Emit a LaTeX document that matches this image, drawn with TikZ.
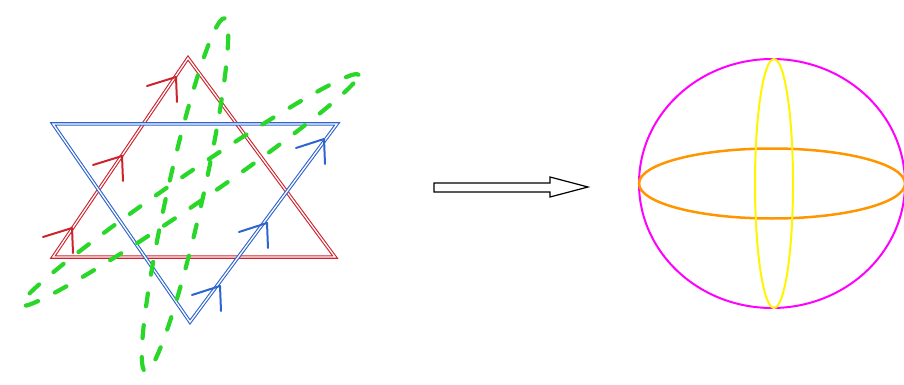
\documentclass[tikz,border=0pt]{standalone}
\definecolor{tred}{RGB}{205,35,45}
\definecolor{tblue}{RGB}{45,100,205}
\definecolor{lgreen}{RGB}{40,215,40}
\definecolor{sorange}{RGB}{255,150,0}
\definecolor{smagenta}{RGB}{255,0,255}
\definecolor{syellow}{RGB}{255,245,0}
\begin{document}
\begin{tikzpicture}[x=1pt,y=-1pt,
  edgeline/.style={double=white, double distance=1.3pt, line width=1.1pt},
  barb/.style={line width=2pt, line cap=round, line join=round},
  greenloop/.style={lgreen, line width=4.2pt, line cap=round, dash pattern=on 13pt off 19pt},
  blockarrow/.style={draw=black, line width=1.2pt, fill=white, line join=miter}]
\useasboundingbox (0,0) rectangle (904,385);
% triangle vertices
\coordinate (rt) at (188,58);
\coordinate (rl) at (53,257);
\coordinate (rr) at (335,257);
\coordinate (bl) at (53,124);
\coordinate (br) at (337,124);
\coordinate (bb) at (190,322);
% triangles
\draw[edgeline, tred] (rl) -- (rt) -- (rr) -- cycle;
\draw[edgeline, tblue] (bl) -- (br) -- (bb) -- cycle;
% red arrowheads
\foreach \x/\y in {72/228, 122/156, 176/77}
  \draw[barb, tred] (\x-29,\y+9) -- (\x,\y) -- (\x+1,\y+25);
% blue arrowheads
\foreach \x/\y in {220/286, 267/223, 324/139}
  \draw[barb, tblue] (\x-28,\y+9) -- (\x,\y) -- (\x+1,\y+25);
% green dashed loops
\draw[greenloop] (185,195) ellipse [x radius=181pt, y radius=18pt, rotate=77.4];
\draw[greenloop] (190,190) ellipse [x radius=204pt, y radius=15pt, rotate=34.4];
% block arrow
\draw[blockarrow] (434,183) -- (550,183) -- (550,177) -- (588,187) -- (550,197) -- (550,192) -- (434,192) -- cycle;
% sphere
\coordinate (sc) at (772,183.5);
\draw[smagenta, line width=2pt] (sc) ellipse [x radius=133pt, y radius=124.5pt];
\draw[sorange, line width=2.5pt] (sc) ellipse [x radius=133pt, y radius=35pt];
\draw[syellow, line width=2pt] (774,183.5) ellipse [x radius=19pt, y radius=124.5pt];
\end{tikzpicture}
\end{document}
